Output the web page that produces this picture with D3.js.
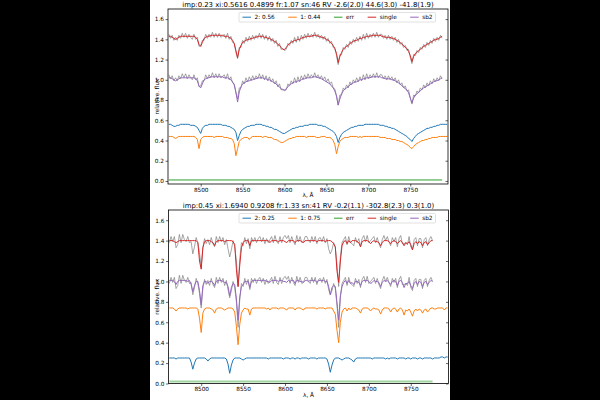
<!DOCTYPE html>
<html>
<head>
<meta charset="utf-8">
<script src="https://cdn.jsdelivr.net/npm/d3@7/dist/d3.min.js"></script>
<style>
  html, body { margin: 0; background: #000; }
  svg { display: block; }
  text { font-family: "DejaVu Sans", sans-serif; fill: #000; }
</style>
</head>
<body>
<svg id="chart" width="600" height="400"></svg>
<script>
// wavelength sampling of all spectra (Angstrom)
const wave = d3.range(8462, 8795, 2);
const xTicks = [8500, 8550, 8600, 8650, 8700, 8750];
const yTicks = [0, 0.2, 0.4, 0.6, 0.8, 1.0, 1.2, 1.4, 1.6];
const shift = 0.4; // obs and single are drawn shifted up by this

// ---- upper fit (fluxes in hundredths) ----
const topTitle = 'imp:0.23 xi:0.5616 0.4899 fr:1.07 sn:46 RV -2.6(2.0) 44.6(3.0) -41.8(1.9)';
const topLabels = ['2: 0.56', '1: 0.44', 'err', 'single', 'sb2'];
const topComp2 = [
  56,56,55,54,54,55,55,56,56,56, 56,56,56,55,55,55,54,53,50,47,
  52,54,55,55,56,56,56,56,56,56, 56,56,55,55,55,54,54,53,52,51,
  48,40,45,49,51,52,53,54,54,55, 55,55,56,56,56,56,55,55,54,54,
  53,53,52,51,51,50,49,48,47,47, 48,49,50,51,52,52,53,53,54,54,
  54,55,55,55,56,56,56,56,56,55, 55,55,54,54,53,52,51,50,49,47,
  44,38,43,46,48,49,50,51,52,53, 53,54,54,55,55,55,55,56,56,56,
  56,56,56,56,56,56,55,55,55,54, 54,53,53,52,52,51,50,49,48,47,
  46,45,44,42,41,39,42,44,46,47, 48,49,50,51,52,52,53,53,54,54,
  55,55,56,56,56,56,56];
const topComp1 = [
  44,44,44,43,42,43,44,44,44,44, 44,44,44,44,44,44,43,41,32,41,
  43,44,44,44,44,44,44,43,44,44, 44,44,44,43,43,43,42,42,41,37,
  25,32,39,41,42,43,43,43,41,43, 44,44,44,44,44,44,43,44,44,43,
  43,43,42,41,41,40,39,38,38,39, 40,41,42,42,43,43,44,44,44,44,
  44,44,43,44,44,44,44,44,43,43, 43,44,44,44,43,43,43,42,40,36,
  27,34,39,41,42,43,43,43,44,44, 44,44,44,43,44,43,44,44,44,44,
  44,44,44,44,44,44,43,43,43,43, 42,42,42,41,41,41,40,40,39,39,
  38,37,36,35,33,32,34,36,37,38, 39,40,40,41,41,42,42,43,43,43,
  43,44,44,44,44,44,44];
const topObs = [
  105,101,104,99,102,99,104,101,106,102, 106,101,105,102,100,105,100,102,93,94,
  99,99,105,101,105,102,107,102,106,102, 106,102,103,105,101,106,100,103,97,96,
  87,81,92,92,99,96,102,98,103,99, 104,100,104,101,106,101,105,100,104,99,
  103,98,101,96,99,93,96,90,91,89, 90,96,94,99,96,102,97,103,98,104,
  100,105,101,106,102,105,102,107,102,105, 101,104,100,103,98,101,96,98,92,91,
  84,75,85,85,92,90,95,92,98,95, 100,97,102,98,103,99,105,100,106,101,
  105,102,106,102,107,102,105,105,101,104, 100,104,100,103,99,102,97,100,95,97,
  92,94,89,90,82,76,85,84,89,87, 92,90,95,92,97,94,99,96,101,98,
  102,99,104,101];
const topSingle = [
  103,103,102,101,100,101,102,103,103,103, 103,103,103,103,103,103,102,100,95,93,
  97,101,102,103,103,104,104,104,104,104, 104,104,104,103,103,103,102,101,99,96,
  89,82,90,94,97,98,99,100,100,101, 101,102,102,103,103,103,103,102,102,101,
  101,100,99,98,97,95,94,92,90,90, 92,94,96,97,98,99,99,100,100,101,
  102,102,103,103,103,103,104,104,104,103, 103,102,102,101,100,99,98,96,94,91,
  86,77,83,87,90,92,93,94,96,97, 98,99,99,100,101,101,102,102,103,103,
  103,104,104,104,104,104,104,103,103,102, 102,102,102,101,101,100,99,98,97,95,
  94,92,91,88,84,78,83,86,87,89, 90,92,93,94,95,96,97,98,99,100,
  100,101,102,103];
const topSb2 = [
  102,102,101,100,99,100,101,102,102,102, 102,102,102,102,102,102,101,99,94,92,
  96,100,101,102,102,103,103,103,103,103, 103,103,103,102,102,102,101,100,98,95,
  88,78,88,93,96,97,98,99,99,100, 100,101,101,102,102,102,102,101,101,100,
  100,99,98,97,96,94,93,91,90,90, 91,93,95,96,97,98,98,99,99,100,
  101,101,102,102,102,102,103,103,103,102, 102,101,100,99,98,97,96,94,92,89,
  84,75,81,86,89,91,92,93,95,96, 97,98,98,99,100,100,101,101,102,102,
  102,103,103,103,103,103,103,102,102,101, 101,101,101,100,100,99,98,97,96,94,
  93,91,90,87,82,77,82,85,86,88, 89,91,92,93,94,95,96,97,98,99,
  99,100,101,102];
const topErrWave = [8462, 8788];
const topErr = [1, 1];

// ---- lower fit (fluxes in hundredths) ----
const botTitle = 'imp:0.45 xi:1.6940 0.9208 fr:1.33 sn:41 RV -0.2(1.1) -302.8(2.3) 0.3(1.0)';
const botLabels = ['2: 0.25', '1: 0.75', 'err', 'single', 'sb2'];
const botComp2 = [
  25,25,25,25,24,25,25,25,25,25, 25,25,25,21,14,20,24,25,25,25,
  25,25,24,22,24,25,25,25,25,25, 25,25,25,25,24,19,10,18,23,25,
  25,25,25,24,23,24,25,25,25,25, 25,25,25,25,25,25,25,25,25,24,
  25,25,25,25,25,25,25,25,24,25, 25,25,24,25,25,24,25,25,24,25,
  25,25,25,24,25,25,25,25,24,25, 25,25,25,25,24,19,11,18,23,25,
  25,25,24,23,24,25,25,25,24,23, 21,24,25,25,25,25,25,25,25,25,
  25,24,25,25,25,25,25,25,25,24, 25,24,25,25,25,25,24,25,25,25,
  25,24,25,25,24,25,25,25,24,25, 25,24,25,25,25,25,25,24,25,25,
  25,25,26,26,25,26,26];
const botComp1 = [
  74,74,74,73,71,73,74,74,74,74, 74,73,74,74,74,74,74,73,64,50,
  69,73,74,74,74,73,72,69,73,74, 74,74,73,72,73,74,74,74,73,70,
  56,38,58,69,72,74,73,73,67,73, 74,74,74,74,74,74,74,74,73,74,
  72,74,74,74,74,73,74,74,74,73, 72,74,74,74,74,72,74,74,74,73,
  72,74,74,74,74,74,74,74,73,74, 74,74,74,73,74,74,74,74,71,68,
  52,40,60,70,73,74,71,74,72,74, 74,74,73,72,69,73,74,74,74,73,
  71,73,74,73,73,72,68,72,74,74, 74,73,70,73,74,73,70,73,74,72,
  67,72,71,73,70,66,71,73,71,73, 72,69,72,73,70,72,74,74,73,73,
  74,74,74,74,72,74,74];
const botObs = [
  98,104,99,104,93,96,106,98,106,101, 99,104,98,99,87,94,103,98,88,74,
  93,102,97,101,96,103,97,94,104,98, 104,99,103,96,101,92,84,91,100,94,
  80,55,82,98,95,103,97,102,92,103, 99,103,98,102,104,99,103,97,102,98,
  101,104,98,105,99,97,104,98,103,105, 102,105,98,104,99,96,105,99,104,98,
  99,104,104,100,98,104,99,104,97,102, 103,99,104,98,102,92,87,91,98,93,
  76,55,84,98,101,104,96,104,98,97, 95,103,98,102,94,102,105,99,105,98,
  100,102,104,98,103,97,93,101,105,100, 104,99,95,103,99,103,94,102,105,97,
  97,98,96,104,94,91,101,103,95,102, 102,93,101,103,95,101,104,100];
const botSingle = [
  100,100,100,99,98,99,100,100,100,100, 100,100,100,100,100,100,100,98,80,72,
  93,99,100,100,100,99,98,95,99,100, 100,100,100,99,100,100,100,100,99,96,
  72,55,76,93,98,100,100,100,95,100, 100,100,100,100,100,100,100,100,100,100,
  98,100,100,100,100,99,100,100,100,99, 98,100,100,100,100,98,100,100,100,99,
  98,100,100,100,100,100,100,100,99,100, 100,100,100,99,100,100,100,99,97,94,
  70,59,80,95,99,100,97,100,98,100, 100,100,99,98,94,99,100,100,100,99,
  97,99,100,99,99,98,95,98,100,100, 100,99,97,99,100,99,97,99,100,98,
  95,98,97,99,96,91,97,99,97,99, 98,95,98,99,96,98,100,100];
const botSb2 = [
  101,101,101,100,97,100,101,101,101,101, 101,100,101,97,90,96,100,100,91,77,
  96,100,100,98,100,100,99,96,100,101, 101,101,100,99,99,95,86,94,98,97,
  83,62,85,95,97,100,100,100,94,100, 101,101,101,101,101,101,101,101,100,100,
  99,101,101,101,101,100,101,101,100,100, 99,101,100,101,101,98,101,101,100,100,
  99,101,101,100,101,101,101,101,99,101, 101,101,101,100,100,95,87,94,96,95,
  79,62,86,95,99,101,98,101,98,99, 97,100,100,99,96,100,101,101,101,100,
  98,99,101,100,100,99,95,99,101,100, 101,99,97,100,101,100,96,100,101,99,
  94,98,98,100,96,93,98,100,97,100, 99,95,99,100,97,99,101,100];
const botErrWave = [8462, 8776];
const botErr = [2, 2];

const colors = { comp2: '#1f77b4', comp1: '#ff7f0e', err: '#2ca02c', single: '#d62728', sb2: '#9467bd', obs: '#7f7f7f' };

const svg = d3.select('#chart');
svg.append('rect').attr('x', 150).attr('y', 0).attr('width', 300).attr('height', 400).attr('fill', '#fff');

function drawPanel(p) {
  const x = d3.scaleLinear().domain([8461, 8795]).range([p.left, p.right]);
  const y = d3.scaleLinear().domain(p.yDomain).range([p.bottom, p.top]);
  const g = svg.append('g');

  g.append('clipPath').attr('id', p.id).append('rect')
    .attr('x', p.left).attr('y', p.top).attr('width', p.right - p.left).attr('height', p.bottom - p.top);
  const plot = g.append('g').attr('clip-path', `url(#${p.id})`);

  const path = (vals, off, xs) => d3.line()
    .x((d, i) => x((xs || wave)[i]))
    .y(d => y(d / 100 + off))(vals);
  const add = (d, color, width, opacity) => plot.append('path').attr('d', d)
    .attr('fill', 'none').attr('stroke', color).attr('stroke-width', width)
    .attr('stroke-opacity', opacity || 1).attr('stroke-linejoin', 'round');

  add(path(p.comp2, 0), colors.comp2, 1);
  add(path(p.comp1, 0), colors.comp1, 1);
  add(path(p.err, 0, p.errWave), colors.err, p.errWidth, p.errOpacity);
  add(path(p.obs, shift), colors.obs, 0.7);
  add(path(p.obs, 0), colors.obs, 0.7);
  add(path(p.single, shift), colors.single, 1);
  add(path(p.sb2, 0), colors.sb2, 1);

  // frame
  g.append('rect').attr('x', p.left).attr('y', p.top)
    .attr('width', p.right - p.left).attr('height', p.bottom - p.top)
    .attr('fill', 'none').attr('stroke', '#000').attr('stroke-width', 0.8);

  g.append('g').attr('transform', `translate(${p.left},0)`)
    .call(d3.axisLeft(y).tickValues(yTicks).tickFormat(d3.format('.1f')).tickSize(2.5).tickPadding(1.5).tickSizeOuter(0));
  g.append('g').attr('transform', `translate(${p.right},0)`)
    .call(d3.axisLeft(y).tickValues(yTicks).tickFormat('').tickSize(2.5).tickSizeOuter(0));
  g.append('g').attr('transform', `translate(0,${p.bottom})`)
    .call(d3.axisBottom(x).tickValues(xTicks).tickFormat(d3.format('d')).tickSize(2.5).tickPadding(1).tickSizeOuter(0));
  g.selectAll('.domain').remove();
  g.selectAll('.tick line').attr('stroke', '#000').attr('stroke-width', 0.6);
  g.selectAll('.tick text').attr('font-size', 5.75).attr('font-family', 'DejaVu Sans');

  g.append('text').attr('x', (p.left + p.right) / 2).attr('y', p.top - 1.8)
    .attr('text-anchor', 'middle').attr('font-size', 6.9).text(p.title);
  g.append('text').attr('x', (p.left + p.right) / 2).attr('y', p.bottom + 13)
    .attr('text-anchor', 'middle').attr('font-size', 5.75).text('λ, Å');
  g.append('text').attr('transform', `translate(158.5,${(p.top + p.bottom) / 2}) rotate(-90)`)
    .attr('text-anchor', 'middle').attr('font-size', 5.75).text('relative. flux');

  // legend, five columns in one row
  const lg = g.append('g');
  const box = lg.append('rect').attr('x', 239).attr('y', p.top + 3.5).attr('height', 9.5)
    .attr('rx', 1).attr('fill', '#fff').attr('fill-opacity', 0.8).attr('stroke', '#ccc').attr('stroke-width', 0.6);
  const keys = ['comp2', 'comp1', 'err', 'single', 'sb2'];
  let lx = 242.5;
  const ly = p.top + 8.2;
  p.labels.forEach((label, i) => {
    lg.append('line').attr('x1', lx).attr('x2', lx + 8.5).attr('y1', ly).attr('y2', ly)
      .attr('stroke', colors[keys[i]]).attr('stroke-width', 1);
    const t = lg.append('text').attr('x', lx + 12).attr('y', ly + 2).attr('font-size', 5.75).text(label);
    lx += 12 + t.node().getComputedTextLength() + 13.5;
  });
  box.attr('width', lx - 13.5 + 3 - 239);
}

drawPanel({ id: 'clipTop', left: 168, right: 448, top: 9, bottom: 184, yDomain: [-0.03, 1.7],
  title: topTitle, labels: topLabels, comp2: topComp2, comp1: topComp1, obs: topObs,
  single: topSingle, sb2: topSb2, err: topErr, errWave: topErrWave, errWidth: 1, errOpacity: 1 });
drawPanel({ id: 'clipBot', left: 168.5, right: 448.5, top: 210, bottom: 383.5, yDomain: [0, 1.7],
  title: botTitle, labels: botLabels, comp2: botComp2, comp1: botComp1, obs: botObs,
  single: botSingle, sb2: botSb2, err: botErr, errWave: botErrWave, errWidth: 2, errOpacity: 0.45 });
</script>
</body>
</html>
